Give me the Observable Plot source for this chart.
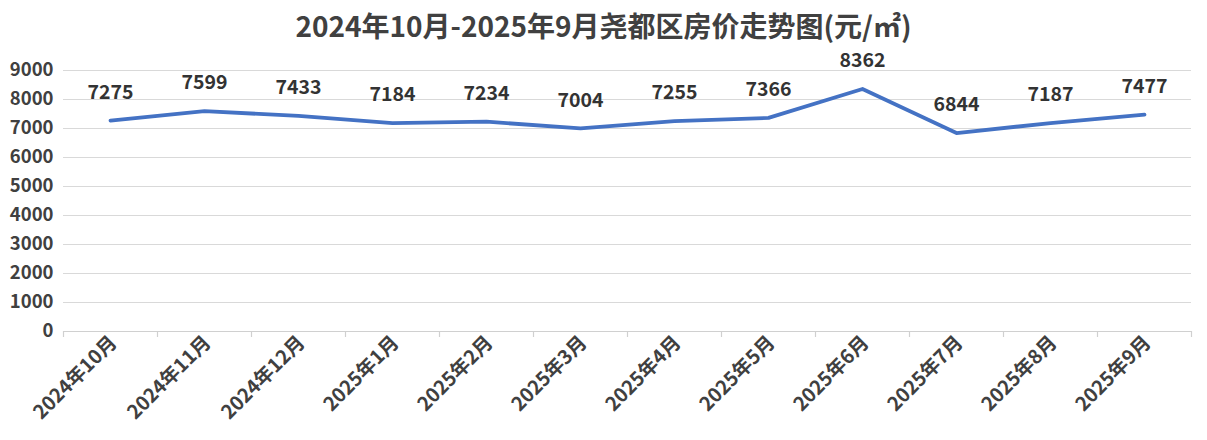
<!DOCTYPE html>
<html><head><meta charset="utf-8">
<script src="https://cdn.jsdelivr.net/npm/d3@7"></script>
<script src="https://cdn.jsdelivr.net/npm/@observablehq/plot@0.6"></script>
<style>
body{margin:0;background:#fff;font-family:"Noto Sans CJK SC","Noto Sans",sans-serif;}
#title{height:36px;line-height:36px;padding-top:7px;text-align:center;font-size:28px;font-weight:bold;color:#404040;width:1207px;}
</style></head><body>
<div id="title">2024年10月-2025年9月尧都区房价走势图(元/㎡)</div>
<div id="chart"></div>
<script>
const months = ["2024年10月","2024年11月","2024年12月","2025年1月","2025年2月","2025年3月","2025年4月","2025年5月","2025年6月","2025年7月","2025年8月","2025年9月"];
const prices = [7275,7599,7433,7184,7234,7004,7255,7366,8362,6844,7187,7477];
const yTicks = [0,1000,2000,3000,4000,5000,6000,7000,8000,9000];
const data = months.map((m,i)=>({month:m, price:prices[i]}));
const W = 1207, ml = 63, mr = 16;
const band = (W - ml - mr) / months.length;
const chart = Plot.plot({
  width: W, height: 397,
  marginLeft: ml, marginRight: mr, marginTop: 27, marginBottom: 109,
  style: {fontFamily: '"Noto Sans CJK SC","Noto Sans",sans-serif', fontWeight: "bold", color: "#404040"},
  x: {type: "point", domain: months, padding: 0.5, label: null},
  y: {domain: [0, 9000], label: null},
  marks: [
    Plot.gridY(yTicks.filter(d=>d>0), {stroke: "#d9d9d9", strokeOpacity: 1}),
    Plot.ruleY([0], {stroke: "#d0d0d0", strokeWidth: 1.2}),
    Plot.ruleX(months, {x: d=>d, dx: -band/2, y1: 0, y2: 0, insetBottom: -6, stroke: "#d0d0d0", strokeWidth: 1.2}),
    Plot.ruleX([months[months.length-1]], {x: d=>d, dx: band/2, y1: 0, y2: 0, insetBottom: -6, stroke: "#d0d0d0", strokeWidth: 1.2}),
    Plot.axisY({ticks: yTicks, tickSize: 0, tickPadding: 10, fontSize: 18.5, fontWeight: "bold", fill: "#404040", tickFormat: d=>String(d)}),
    Plot.axisX({tickSize: 0, tickRotate: -45, tickPadding: 8, dx: 3, fontSize: 19.5, fontWeight: "bold", fill: "#404040"}),
    Plot.line(data, {x: "month", y: "price", stroke: "#4472C4", strokeWidth: 3.8}),
    Plot.text(data, {x: "month", y: "price", text: d=>String(d.price), dy: -28, fontSize: 19.5, fontWeight: "bold", fill: "#333333"})
  ]
});
document.getElementById("chart").appendChild(chart);
</script>
</body></html>
